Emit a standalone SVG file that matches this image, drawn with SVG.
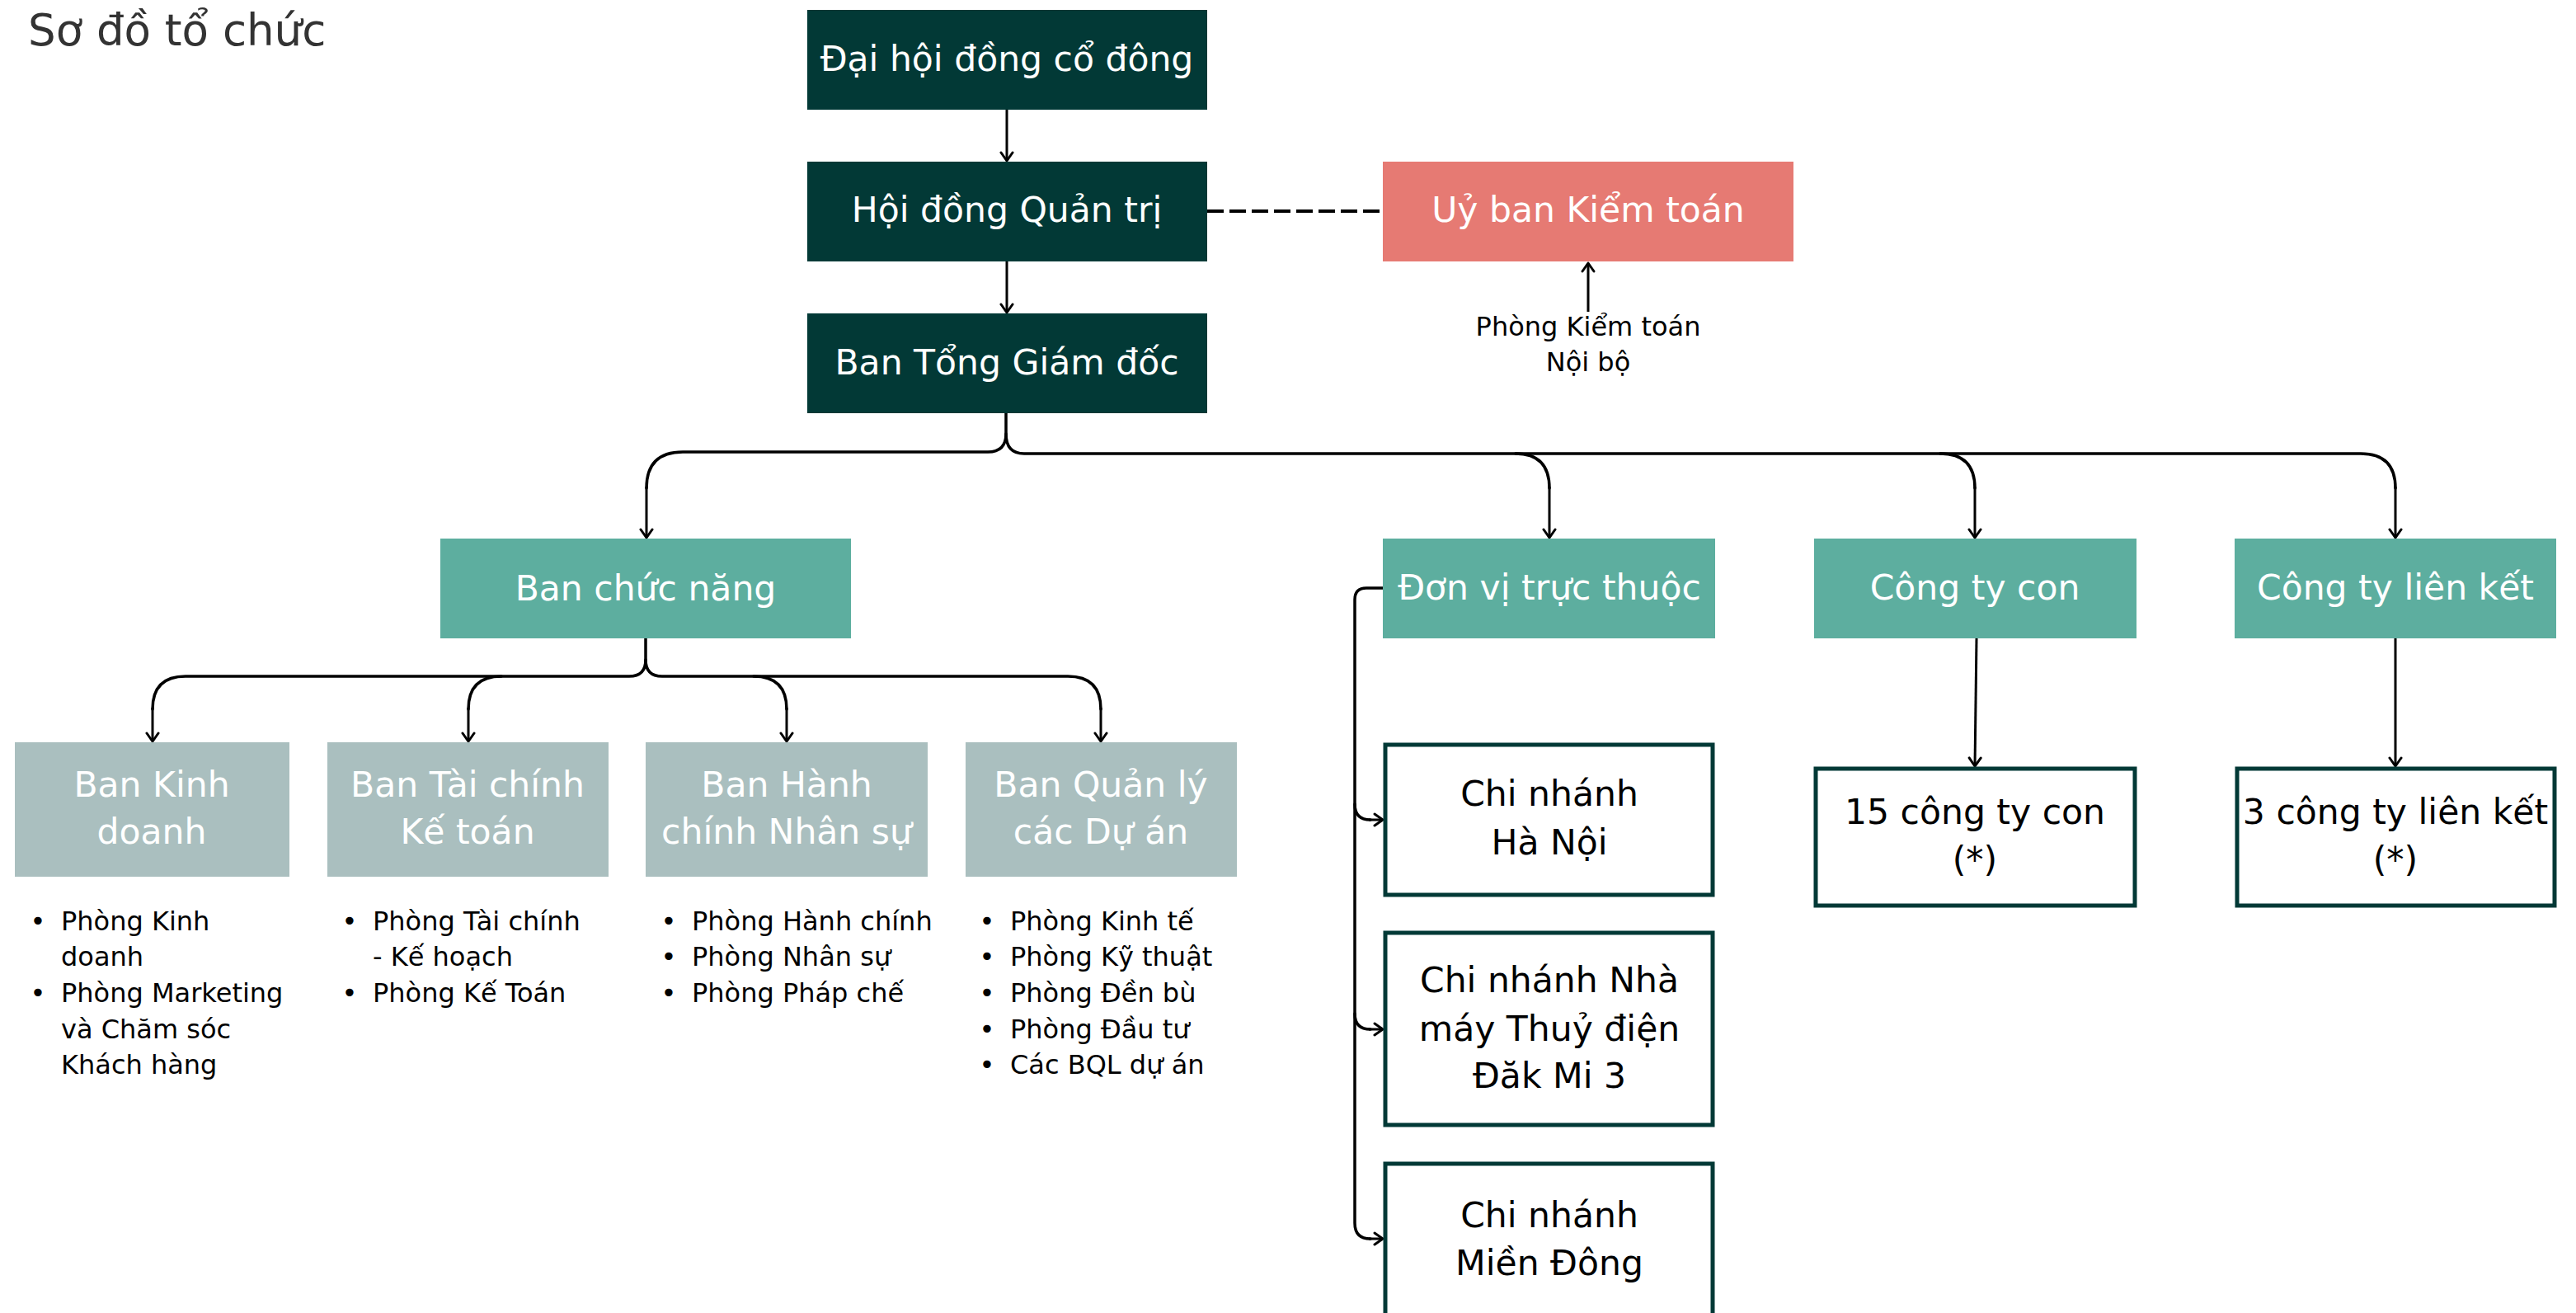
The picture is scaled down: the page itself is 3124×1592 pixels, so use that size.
<svg xmlns="http://www.w3.org/2000/svg" width="3124" height="1592" viewBox="0 0 3124 1592">
<defs>
<style>
text{font-family:"DejaVu Sans","Noto Sans",sans-serif}
.dark{fill:#023936}
.teal{fill:#5DAE9F}
.gray{fill:#AABFBF}
.pink{fill:#E67A73}
.wbox{fill:#fff;stroke:#023936;stroke-width:5}
.tw{fill:#fff;font-size:42.5px;text-anchor:middle}
.tb{fill:#000;font-size:42.5px;text-anchor:middle}
.li{fill:#000;font-size:32px}
.bul{fill:#000;font-size:32px;text-anchor:middle}
.c{fill:none;stroke:#000;stroke-width:3.5;stroke-linecap:round;stroke-linejoin:round}
.ca{fill:none;stroke:#000;stroke-width:3;marker-end:url(#ah)}
</style>
<marker id="ah" markerUnits="userSpaceOnUse" markerWidth="24" markerHeight="24" viewBox="-12 -12 24 24" refX="0" refY="0" orient="auto">
<path d="M-10,-7 L0,0 L-10,7" fill="none" stroke="#000" stroke-width="3" stroke-linecap="round" stroke-linejoin="round"/>
</marker>
</defs>
<rect width="3124" height="1592" fill="#fff"/>
<text x="34" y="55" style="font-size:53px;fill:#333">Sơ đồ tổ chức</text>

<g id="connectors">
<path class="ca" d="M1221,133 L1221,195"/>
<path class="ca" d="M1221,317 L1221,379"/>
<path d="M1464,256 L1677,256" fill="none" stroke="#000" stroke-width="4" stroke-dasharray="20,7"/>
<path class="ca" d="M1926,378 L1926,319"/>
<path class="c" d="M1220,501 L1220,526 Q1220,548 1198,548 L828,548 Q784,548 784,592"/>
<path class="ca" d="M784,590 L784,652"/>
<path class="c" d="M1220,526 Q1220,550 1242,550 L2863,550 Q2905,550 2905,592"/>
<path class="ca" d="M2905,590 L2905,652"/>
<path class="c" d="M1838,550 Q1879,550 1879,592"/>
<path class="ca" d="M1879,590 L1879,652"/>
<path class="c" d="M2353,550 Q2395,550 2395,592"/>
<path class="ca" d="M2395,590 L2395,652"/>
<path class="c" d="M783,774 L783,800 Q783,820 763,820 L225,820 Q185,820 185,860"/>
<path class="ca" d="M185,858 L185,899"/>
<path class="c" d="M608,820 Q568,820 568,860"/>
<path class="ca" d="M568,858 L568,899"/>
<path class="c" d="M783,800 Q783,820 803,820 L1295,820 Q1335,820 1335,860"/>
<path class="ca" d="M1335,858 L1335,899"/>
<path class="c" d="M914,820 Q954,820 954,860"/>
<path class="ca" d="M954,858 L954,899"/>
<path class="ca" d="M2397,774 L2395,929"/>
<path class="ca" d="M2905,774 L2905,929"/>
<path class="c" d="M1677,713 L1657,713 Q1643,713 1643,727 L1643,1483 Q1643,1502 1662,1502"/>
<path class="ca" d="M1660,1502 L1677,1502"/>
<path class="c" d="M1643,975 Q1643,994 1662,994"/>
<path class="ca" d="M1660,994 L1677,994"/>
<path class="c" d="M1643,1229 Q1643,1248 1662,1248"/>
<path class="ca" d="M1660,1248 L1677,1248"/>
</g>

<g id="dhcd"><rect class="dark" x="979" y="12" width="485" height="121"/><text class="tw" x="1221" y="86">Đại hội đồng cổ đông</text></g>
<g id="hdqt"><rect class="dark" x="979" y="196" width="485" height="121"/><text class="tw" x="1221" y="269">Hội đồng Quản trị</text></g>
<g id="btgd"><rect class="dark" x="979" y="380" width="485" height="121"/><text class="tw" x="1221" y="454">Ban Tổng Giám đốc</text></g>
<g id="ubkt"><rect class="pink" x="1677" y="196" width="498" height="121"/><text class="tw" x="1926" y="269">Uỷ ban Kiểm toán</text></g>
<g id="pkt"><text class="bul" x="1926" y="407">Phòng Kiểm toán</text><text class="bul" x="1926" y="450">Nội bộ</text></g>

<g id="bcn"><rect class="teal" x="534" y="653" width="498" height="121"/><text class="tw" x="783" y="728">Ban chức năng</text></g>
<g id="dvtt"><rect class="teal" x="1677" y="653" width="403" height="121"/><text class="tw" x="1879" y="727">Đơn vị trực thuộc</text></g>
<g id="ctc"><rect class="teal" x="2200" y="653" width="391" height="121"/><text class="tw" x="2395" y="727">Công ty con</text></g>
<g id="ctlk"><rect class="teal" x="2710" y="653" width="390" height="121"/><text class="tw" x="2905" y="727">Công ty liên kết</text></g>

<g id="bkd"><rect class="gray" x="18" y="900" width="333" height="163"/><text class="tw" x="184" y="966">Ban Kinh</text><text class="tw" x="184" y="1023">doanh</text></g>
<g id="btckt"><rect class="gray" x="397" y="900" width="341" height="163"/><text class="tw" x="567" y="966">Ban Tài chính</text><text class="tw" x="567" y="1023">Kế toán</text></g>
<g id="bhcns"><rect class="gray" x="783" y="900" width="342" height="163"/><text class="tw" x="954" y="966">Ban Hành</text><text class="tw" x="954" y="1023">chính Nhân sự</text></g>
<g id="bqlda"><rect class="gray" x="1171" y="900" width="329" height="163"/><text class="tw" x="1335" y="966">Ban Quản lý</text><text class="tw" x="1335" y="1023">các Dự án</text></g>

<g id="list1">
<text class="bul" x="46" y="1128">•</text><text class="li" x="74" y="1128">Phòng Kinh</text>
<text class="li" x="74" y="1171">doanh</text>
<text class="bul" x="46" y="1215">•</text><text class="li" x="74" y="1215">Phòng Marketing</text>
<text class="li" x="74" y="1259">và Chăm sóc</text>
<text class="li" x="74" y="1302">Khách hàng</text>
</g>
<g id="list2">
<text class="bul" x="424" y="1128">•</text><text class="li" x="452" y="1128">Phòng Tài chính</text>
<text class="li" x="452" y="1171">- Kế hoạch</text>
<text class="bul" x="424" y="1215">•</text><text class="li" x="452" y="1215">Phòng Kế Toán</text>
</g>
<g id="list3">
<text class="bul" x="811" y="1128">•</text><text class="li" x="839" y="1128">Phòng Hành chính</text>
<text class="bul" x="811" y="1171">•</text><text class="li" x="839" y="1171">Phòng Nhân sự</text>
<text class="bul" x="811" y="1215">•</text><text class="li" x="839" y="1215">Phòng Pháp chế</text>
</g>
<g id="list4">
<text class="bul" x="1197" y="1128">•</text><text class="li" x="1225" y="1128">Phòng Kinh tế</text>
<text class="bul" x="1197" y="1171">•</text><text class="li" x="1225" y="1171">Phòng Kỹ thuật</text>
<text class="bul" x="1197" y="1215">•</text><text class="li" x="1225" y="1215">Phòng Đền bù</text>
<text class="bul" x="1197" y="1259">•</text><text class="li" x="1225" y="1259">Phòng Đầu tư</text>
<text class="bul" x="1197" y="1302">•</text><text class="li" x="1225" y="1302">Các BQL dự án</text>
</g>

<g id="cnhn"><rect class="wbox" x="1680" y="903" width="397" height="182"/><text class="tb" x="1879" y="977">Chi nhánh</text><text class="tb" x="1879" y="1036">Hà Nội</text></g>
<g id="cnnm"><rect class="wbox" x="1680" y="1131" width="397" height="233"/><text class="tb" x="1879" y="1203">Chi nhánh Nhà</text><text class="tb" x="1879" y="1262">máy Thuỷ điện</text><text class="tb" x="1879" y="1319">Đăk Mi 3</text></g>
<g id="cnmd"><rect class="wbox" x="1680" y="1411" width="397" height="200"/><text class="tb" x="1879" y="1488">Chi nhánh</text><text class="tb" x="1879" y="1546">Miền Đông</text></g>
<g id="ctc15"><rect class="wbox" x="2202" y="932" width="387" height="166"/><text class="tb" x="2395" y="999">15 công ty con</text><text class="tb" x="2395" y="1057">(*)</text></g>
<g id="ctlk3"><rect class="wbox" x="2713" y="932" width="385" height="166"/><text class="tb" x="2905" y="999">3 công ty liên kết</text><text class="tb" x="2905" y="1057">(*)</text></g>
</svg>
